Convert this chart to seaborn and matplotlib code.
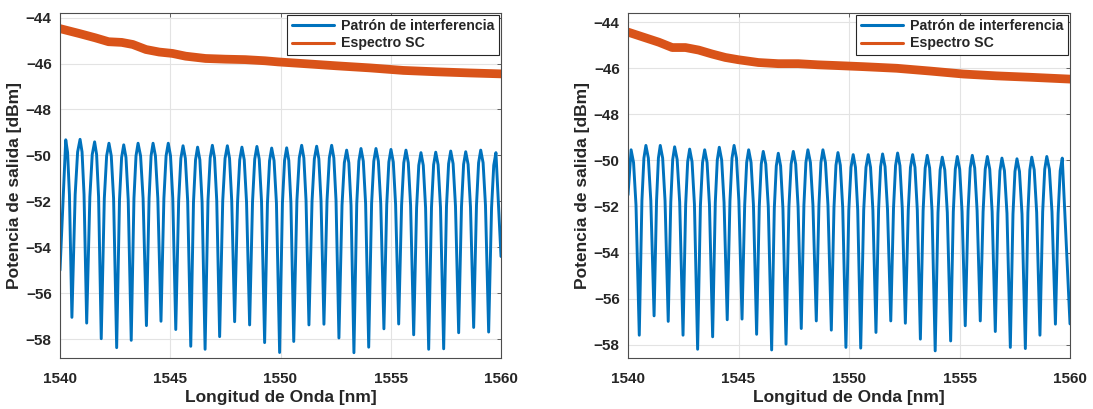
import numpy as np
import pandas as pd
import seaborn as sns
import matplotlib.pyplot as plt
from matplotlib.lines import Line2D

# valores: máximos y mínimos de las franjas
left_peak_wl = [1540.26, 1540.91, 1541.57, 1542.22, 1542.89, 1543.54, 1544.22, 1544.91, 1545.58, 1546.24,
                1546.91, 1547.59, 1548.25, 1548.93, 1549.60, 1550.28, 1550.96, 1551.64, 1552.32, 1553.00,
                1553.65, 1554.33, 1555.01, 1555.69, 1556.37, 1557.04, 1557.72, 1558.40, 1559.08, 1559.77]
left_peak_db = [-49.32, -49.30, -49.41, -49.47, -49.54, -49.47, -49.47, -49.47, -49.58, -49.64,
                -49.56, -49.58, -49.64, -49.61, -49.68, -49.67, -49.56, -49.60, -49.56, -49.77,
                -49.70, -49.70, -49.74, -49.77, -49.88, -49.86, -49.81, -49.84, -49.77, -49.88]
left_trough_wl = [1540.54, 1541.21, 1541.87, 1542.57, 1543.23, 1543.92, 1544.58, 1545.25, 1545.93, 1546.58,
                  1547.24, 1547.92, 1548.60, 1549.28, 1549.96, 1550.60, 1551.29, 1551.97, 1552.65, 1553.33,
                  1554.00, 1554.69, 1555.36, 1556.04, 1556.72, 1557.40, 1558.08, 1558.76, 1559.44]
left_trough_db = [-57.05, -57.30, -57.98, -58.37, -58.05, -57.41, -57.22, -57.58, -58.31, -58.44,
                  -57.89, -57.24, -57.38, -58.15, -58.58, -58.10, -57.38, -57.35, -57.95, -58.59,
                  -58.35, -57.55, -57.34, -57.81, -58.44, -58.42, -57.72, -57.49, -57.69]
left_ends_wl = [1540.0, 1560.0]
left_ends_db = [-55.0, -54.4]

right_peak_wl = [1540.14, 1540.81, 1541.46, 1542.11, 1542.79, 1543.47, 1544.13, 1544.80, 1545.46, 1546.12,
                 1546.80, 1547.48, 1548.14, 1548.82, 1549.50, 1550.19, 1550.87, 1551.52, 1552.20, 1552.88,
                 1553.54, 1554.22, 1554.90, 1555.58, 1556.26, 1556.92, 1557.60, 1558.27, 1558.95, 1559.65]
right_peak_db = [-49.54, -49.35, -49.35, -49.41, -49.51, -49.54, -49.43, -49.35, -49.54, -49.61,
                 -49.69, -49.61, -49.54, -49.54, -49.66, -49.75, -49.75, -49.72, -49.68, -49.75,
                 -49.78, -49.86, -49.83, -49.78, -49.83, -49.90, -49.93, -49.86, -49.83, -49.90]
right_trough_wl = [1540.51, 1541.18, 1541.82, 1542.49, 1543.15, 1543.83, 1544.49, 1545.16, 1545.82, 1546.50,
                   1547.15, 1547.84, 1548.52, 1549.20, 1549.86, 1550.53, 1551.22, 1551.89, 1552.55, 1553.23,
                   1553.90, 1554.60, 1555.26, 1555.94, 1556.62, 1557.30, 1557.98, 1558.64, 1559.34]
right_trough_db = [-57.59, -56.75, -56.99, -57.59, -58.20, -57.66, -56.92, -56.89, -57.55, -58.23,
                   -57.98, -57.30, -56.97, -57.37, -58.12, -58.15, -57.47, -56.97, -57.07, -57.76,
                   -58.27, -57.84, -57.18, -56.97, -57.43, -58.12, -58.17, -57.59, -57.11]
right_ends_wl = [1540.0, 1560.0]
right_ends_db = [-51.5, -57.1]

# perfil típico de una franja (fracción del semiperiodo, caída en dB desde el máximo)
profile_frac = [0.3, 0.6]
profile_drop = [0.55, 2.4]

sc_wl_left = [1540.0, 1540.9, 1541.6, 1542.2, 1542.8, 1543.3, 1543.9, 1544.5, 1545.1, 1545.7, 1546.6,
              1547.5, 1548.4, 1549.3, 1549.9, 1551.0, 1552.55, 1554.06, 1555.57, 1557.08, 1558.59, 1560.0]
sc_db_left = [-44.48, -44.70, -44.88, -45.05, -45.08, -45.17, -45.39, -45.50, -45.56, -45.68, -45.78,
              -45.81, -45.83, -45.88, -45.93, -46.00, -46.10, -46.19, -46.30, -46.36, -46.41, -46.45]
sc_wl_right = [1540.0, 1540.7, 1541.4, 1542.0, 1542.6, 1543.2, 1543.8, 1544.4, 1545.0, 1545.9, 1546.8,
               1547.7, 1548.6, 1549.4, 1550.65, 1552.16, 1553.67, 1555.17, 1556.68, 1558.19, 1560.0]
sc_db_right = [-44.43, -44.65, -44.87, -45.10, -45.10, -45.21, -45.38, -45.53, -45.63, -45.75, -45.80,
               -45.80, -45.85, -45.88, -45.93, -46.00, -46.12, -46.25, -46.33, -46.39, -46.47]

labels = ["Patrón de interferencia", "Espectro SC"]
blue = "#0072BD"
orange = "#D95319"

sns.set_theme(style="whitegrid")
plt.rcParams['font.family'] = ['Liberation Sans', 'DejaVu Sans']
plt.rcParams['font.weight'] = 'bold'


def fringe_frame(pk_wl, pk_db, tr_wl, tr_db, end_wl, end_db):
    wl = list(pk_wl) + list(tr_wl) + list(end_wl)
    db = list(pk_db) + list(tr_db) + list(end_db)
    # hombros de cada franja hacia los mínimos vecinos
    for p, v in zip(pk_wl, pk_db):
        for t in tr_wl:
            if abs(t - p) < 0.5:
                for f, d in zip(profile_frac, profile_drop):
                    wl.append(p + f * (t - p))
                    db.append(v - d)
    df = pd.DataFrame({"wl": wl, "db": db})
    return df.sort_values("wl").reset_index(drop=True)


panels = [
    (fringe_frame(left_peak_wl, left_peak_db, left_trough_wl, left_trough_db, left_ends_wl, left_ends_db),
     sc_wl_left, sc_db_left, (-58.82, -43.8), [60, 441]),
    (fringe_frame(right_peak_wl, right_peak_db, right_trough_wl, right_trough_db, right_ends_wl, right_ends_db),
     sc_wl_right, sc_db_right, (-58.58, -43.6), [628, 442]),
]

W, H = 1093, 409
fig = plt.figure(figsize=(W / 100, H / 100), dpi=100)

for fr, sc_wl, sc_db, ylim, (x0, w) in panels:
    ax = fig.add_axes([x0 / W, (H - 358) / H, w / W, 345 / H])
    sns.lineplot(x=fr["wl"], y=fr["db"], ax=ax, color=blue, linewidth=2.1, sort=False)
    sns.lineplot(x=sc_wl, y=sc_db, ax=ax, color=orange, linewidth=6.3, sort=False)
    ax.set_xlim(1540, 1560)
    ax.set_ylim(*ylim)
    ax.set_xticks([1540, 1545, 1550, 1555, 1560])
    ax.set_yticks([-58, -56, -54, -52, -50, -48, -46, -44])
    ax.grid(True, color="#e3e3e3", linewidth=0.8)
    ax.tick_params(direction="in", length=3, top=True, right=True, labelsize=11,
                   labelcolor="#262626", color="#4d4d4d", width=0.6)
    ax.tick_params(axis="x", pad=10)
    ax.tick_params(axis="y", pad=6)
    for lbl in ax.get_xticklabels() + ax.get_yticklabels():
        lbl.set_fontweight("bold")
    for s in ax.spines.values():
        s.set_color("#4d4d4d")
        s.set_linewidth(0.8)
    ax.set_xlabel("Longitud de Onda [nm]", fontsize=12.5, fontweight="bold", color="#262626", labelpad=3)
    ax.set_ylabel("Potencia de salida [dBm]", fontsize=12.5, fontweight="bold", color="#262626", labelpad=3)
    handles = [Line2D([0], [0], color=blue, linewidth=2.2), Line2D([0], [0], color=orange, linewidth=2.2)]
    leg = ax.legend(handles, labels, loc="upper right", frameon=True, fancybox=False,
                    borderaxespad=0.15, handlelength=3.0, handletextpad=0.5, labelspacing=0.22,
                    borderpad=0.3, prop={"weight": "bold", "size": 10.2})
    leg.get_frame().set_edgecolor("#262626")
    leg.get_frame().set_linewidth(0.8)
    leg.get_frame().set_alpha(1)

fig.savefig("out.png", dpi=100)
